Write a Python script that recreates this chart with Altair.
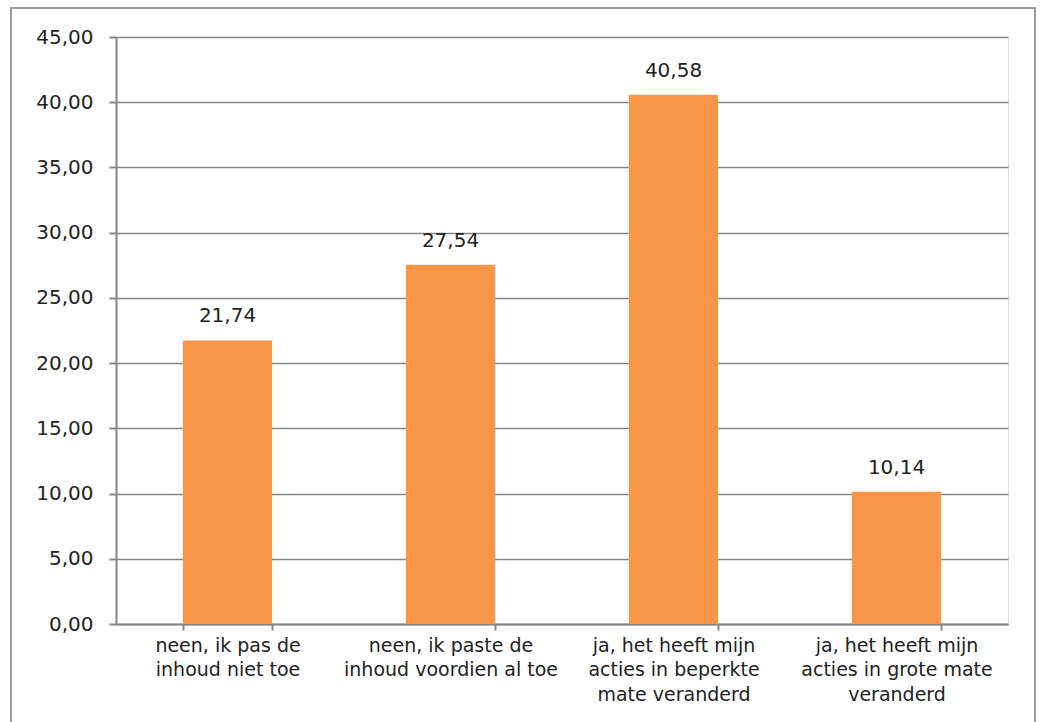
import altair as alt
import pandas as pd

categories = [
    "neen, ik pas de\ninhoud niet toe",
    "neen, ik paste de\ninhoud voordien al toe",
    "ja, het heeft mijn\nacties in beperkte\nmate veranderd",
    "ja, het heeft mijn\nacties in grote mate\nveranderd",
]
values = [21.74, 27.54, 40.58, 10.14]

df = pd.DataFrame({"cat": categories, "val": values})

FONT = "DejaVu Sans"
GRID = "#868686"
TXT = "#222222"

base = alt.Chart(df)

x_enc = alt.X(
    "cat:N",
    sort=categories,
    title=None,
    scale=alt.Scale(paddingInner=0.6, paddingOuter=0.3),
    axis=alt.Axis(
        labelAngle=0,
        labelExpr="split(datum.label, '\\n')",
        labelFont=FONT,
        labelFontSize=19,
        labelColor=TXT,
        labelLineHeight=24.5,
        labelPadding=6,
        labelBaseline="top",
        labelLimit=0,
        tickBand="extent",
        tickColor=GRID,
        tickSize=6,
        tickWidth=2,
        domainColor=GRID,
        domainWidth=2,
        grid=False,
    ),
)

y_enc = alt.Y(
    "val:Q",
    title=None,
    scale=alt.Scale(domain=[0, 45], nice=False),
    axis=alt.Axis(
        values=[0, 5, 10, 15, 20, 25, 30, 35, 40, 45],
        labelExpr="replace(format(datum.value, '.2f'), '.', ',')",
        labelFont=FONT,
        labelFontSize=20,
        labelColor=TXT,
        labelPadding=16,
        tickColor=GRID,
        tickSize=7,
        tickWidth=2,
        domainColor=GRID,
        domainWidth=2,
        grid=True,
        gridColor=GRID,
        gridWidth=1.5,
    ),
)

bars = base.mark_bar(color="#F79646").encode(x=x_enc, y=y_enc)

labels = base.transform_calculate(
    lbl="replace(format(datum.val, '.2f'), '.', ',')"
).mark_text(
    font=FONT, fontSize=20, color=TXT, baseline="alphabetic", dy=-18
).encode(x=alt.X("cat:N", sort=categories), y="val:Q", text="lbl:N")

border = alt.Chart(pd.DataFrame({"a": [0]})).mark_rect(
    fill=None, stroke="#9a9a9a", strokeWidth=2, clip=False
).encode(
    x=alt.value(-105), x2=alt.value(919), y=alt.value(-29), y2=alt.value(720)
)

chart = alt.layer(border, bars, labels).properties(
    width=892,
    height=587,
    padding={"left": 116, "top": 37, "right": 36, "bottom": 98},
    autosize=alt.AutoSizeParams(type="none"),
).configure_view(stroke=None).configure(background="white")

chart.save("out.html", embed_options={"renderer": "svg", "actions": False})
